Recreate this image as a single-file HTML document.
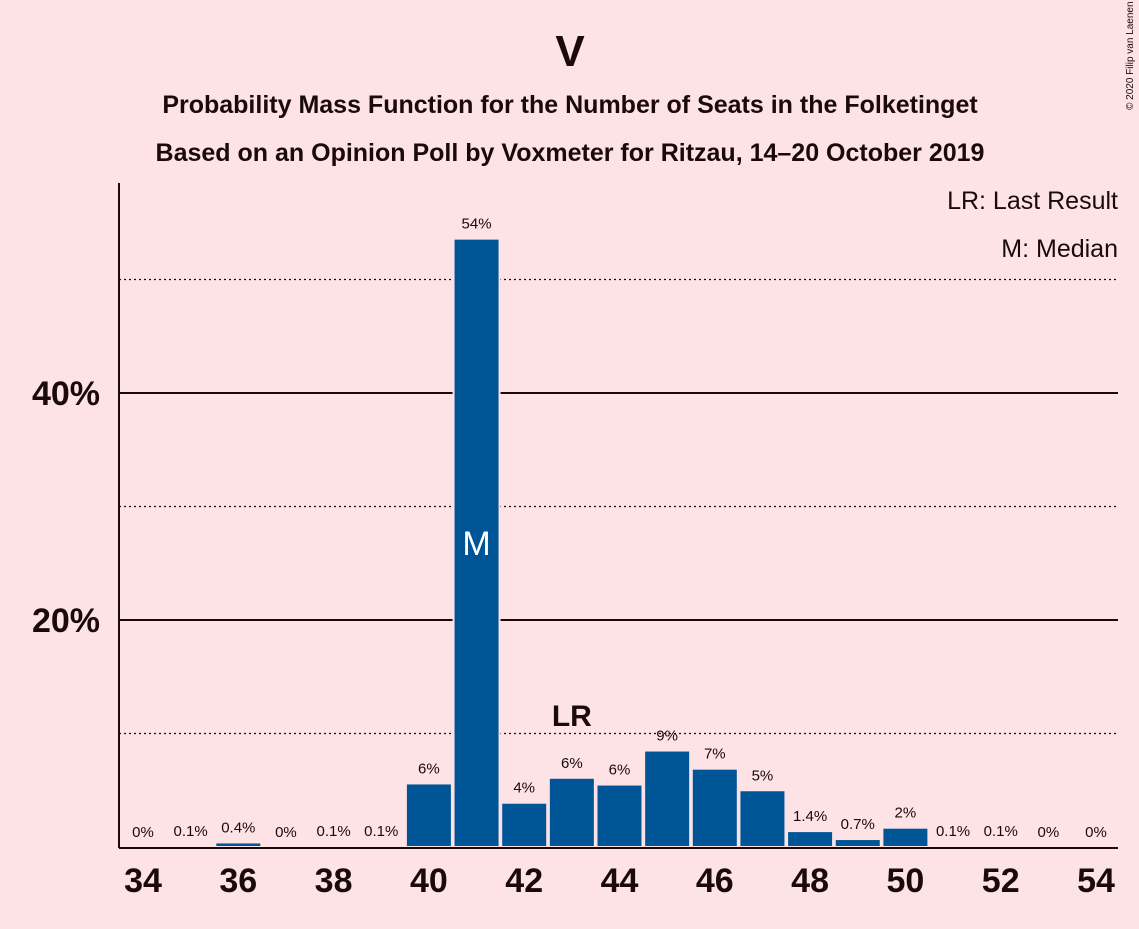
<!DOCTYPE html>
<html><head><meta charset="utf-8"><style>
body{margin:0;background:#fde2e6;font-family:"Liberation Sans",sans-serif;}
svg text{font-family:"Liberation Sans",sans-serif;fill:#1a0a0a;}
</style></head><body>
<svg id="c" width="1139" height="924">
<rect width="1139" height="924" fill="#fde2e6"/>
<text x="570" y="66" text-anchor="middle" font-size="44" font-weight="bold">V</text>
<text x="570" y="113" text-anchor="middle" font-size="25" font-weight="bold">Probability Mass Function for the Number of Seats in the Folketinget</text>
<text x="570" y="161" text-anchor="middle" font-size="25" font-weight="bold">Based on an Opinion Poll by Voxmeter for Ritzau, 14–20 October 2019</text>
<text x="1133" y="110" font-size="10" transform="rotate(-90 1133 110)">© 2020 Filip van Laenen</text>
<text x="1118" y="209" text-anchor="end" font-size="25">LR: Last Result</text>
<text x="1118" y="257" text-anchor="end" font-size="25">M: Median</text>
<g id="grid"></g><g id="bars"></g><g id="labels"></g>
<line x1="119" y1="183" x2="119" y2="848" stroke="#1a0a0a" stroke-width="2"/>
<line x1="119" y1="848" x2="1118" y2="848" stroke="#1a0a0a" stroke-width="2"/>
</svg>
<script>
const seats=[34,35,36,37,38,39,40,41,42,43,44,45,46,47,48,49,50,51,52,53,54];
const values=[0,0.1,0.4,0,0.1,0.1,5.6,53.6,3.9,6.1,5.5,8.5,6.9,5.0,1.4,0.7,1.7,0.1,0.1,0,0];
const valueLabels=["0%","0.1%","0.4%","0%","0.1%","0.1%","6%","54%","4%","6%","6%","9%","7%","5%","1.4%","0.7%","2%","0.1%","0.1%","0%","0%"];
const gridSolid=[20,40];
const gridDotted=[10,30,50];
const xTicks=[34,36,38,40,42,44,46,48,50,52,54];
const medianSeat=41, lastResultSeat=43;
const NS="http://www.w3.org/2000/svg";
const x=s=>143+(s-34)*47.65;
const y=v=>847-v*11.35;
function mk(tag,attrs,parent,txt){const e=document.createElementNS(NS,tag);for(const k in attrs)e.setAttribute(k,attrs[k]);if(txt!==undefined)e.textContent=txt;document.getElementById(parent).appendChild(e);return e;}
gridSolid.forEach(g=>{const l=mk('line',{x1:119,x2:1118,y1:y(g),y2:y(g),stroke:'#1a0a0a','stroke-width':2},'grid');


const t=mk('text',{x:100,y:y(g)+12,'text-anchor':'end','font-size':34,'font-weight':'bold'},'grid',g+'%');

});
gridDotted.forEach(g=>{const l=mk('line',{x1:119,x2:1118,y1:y(g),y2:y(g),stroke:'#1a0a0a','stroke-width':1.2,'stroke-dasharray':'2,3'},'grid');

});
seats.forEach((s,i)=>{const v=values[i];
if(v>0){const r=mk('rect',{x:x(s)-23,y:y(v),width:46,height:847-y(v),fill:'#005596',stroke:'#fde2e6','stroke-width':2},'bars');

}
const t=mk('text',{x:x(s),y:y(v)-10,'text-anchor':'middle','font-size':15},'labels',valueLabels[i]);

});
xTicks.forEach(s=>{const t=mk('text',{x:x(s),y:892,'text-anchor':'middle','font-size':34,'font-weight':'bold'},'labels',s);

});
const mi=seats.indexOf(medianSeat);
const m=mk('text',{x:x(medianSeat),y:y(values[mi]/2)+12,'text-anchor':'middle','font-size':34,style:'fill:#fff'},'labels','M');


const li=seats.indexOf(lastResultSeat);
const lr=mk('text',{x:x(lastResultSeat),y:y(values[li])-52,'text-anchor':'middle','font-size':30,'font-weight':'bold'},'labels','LR');


</script>
</body></html>
